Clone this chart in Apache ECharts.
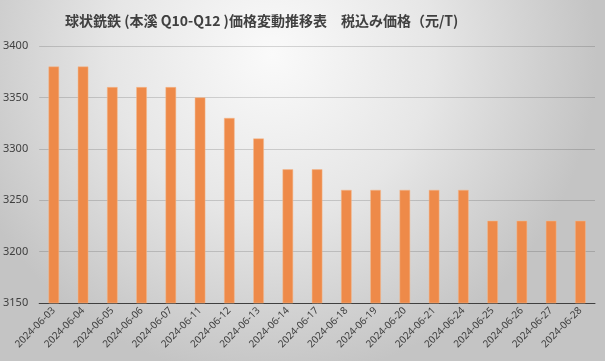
<!DOCTYPE html>
<html><head><meta charset="utf-8">
<script src="https://cdn.jsdelivr.net/npm/echarts@6/dist/echarts.min.js"></script>
<style>html,body{margin:0;padding:0;}#c{width:605px;height:361px;}</style>
</head><body><div id="c"></div>
<script>
const titleText = '球状銑鉄 (本溪 Q10-Q12 )価格変動推移表　税込み価格（元/T)';
const categories = ['2024-06-03','2024-06-04','2024-06-05','2024-06-06','2024-06-07','2024-06-11','2024-06-12','2024-06-13','2024-06-14','2024-06-17','2024-06-18','2024-06-19','2024-06-20','2024-06-21','2024-06-24','2024-06-25','2024-06-26','2024-06-27','2024-06-28'];
const prices = [3380,3380,3360,3360,3360,3350,3330,3310,3280,3280,3260,3260,3260,3260,3260,3230,3230,3230,3230];
const yMin = 3150, yMax = 3400, yStep = 50;

const chart = echarts.init(document.getElementById('c'));
chart.setOption({
  backgroundColor: {type:'radial', x:0.45, y:0.15, r:0.9, colorStops:[{offset:0,color:'#fafafa'},{offset:0.5,color:'#e6e6e6'},{offset:1,color:'#c4c4c4'}]},
  animation:false,
  title:{text:titleText, left:60, top:9,
    textStyle:{fontFamily:'Noto Sans CJK JP', fontSize:14, fontWeight:'bold', color:'#404040'}},
  grid:{left:39, right:10, top:46, bottom:58},
  xAxis:{type:'category', data:categories,
    axisLine:{lineStyle:{color:'#404040', width:1}},
    axisTick:{show:false},
    axisLabel:{rotate:45, interval:0, fontSize:10, color:'#404040', fontFamily:'Noto Sans', margin:6}},
  yAxis:{type:'value', min:yMin, max:yMax, interval:yStep,
    axisLine:{show:false}, axisTick:{show:false},
    splitLine:{lineStyle:{color:'rgba(0,0,0,0.15)'}},
    axisLabel:{fontSize:11, color:'#404040', fontFamily:'Noto Sans', margin:11, formatter:v=>String(v)}},
  series:[{type:'bar', data:prices, barCategoryGap:'64%',
    itemStyle:{color:'#ee8a49', borderColor:'#f5b88c', borderWidth:0.5}}]
});
</script></body></html>
